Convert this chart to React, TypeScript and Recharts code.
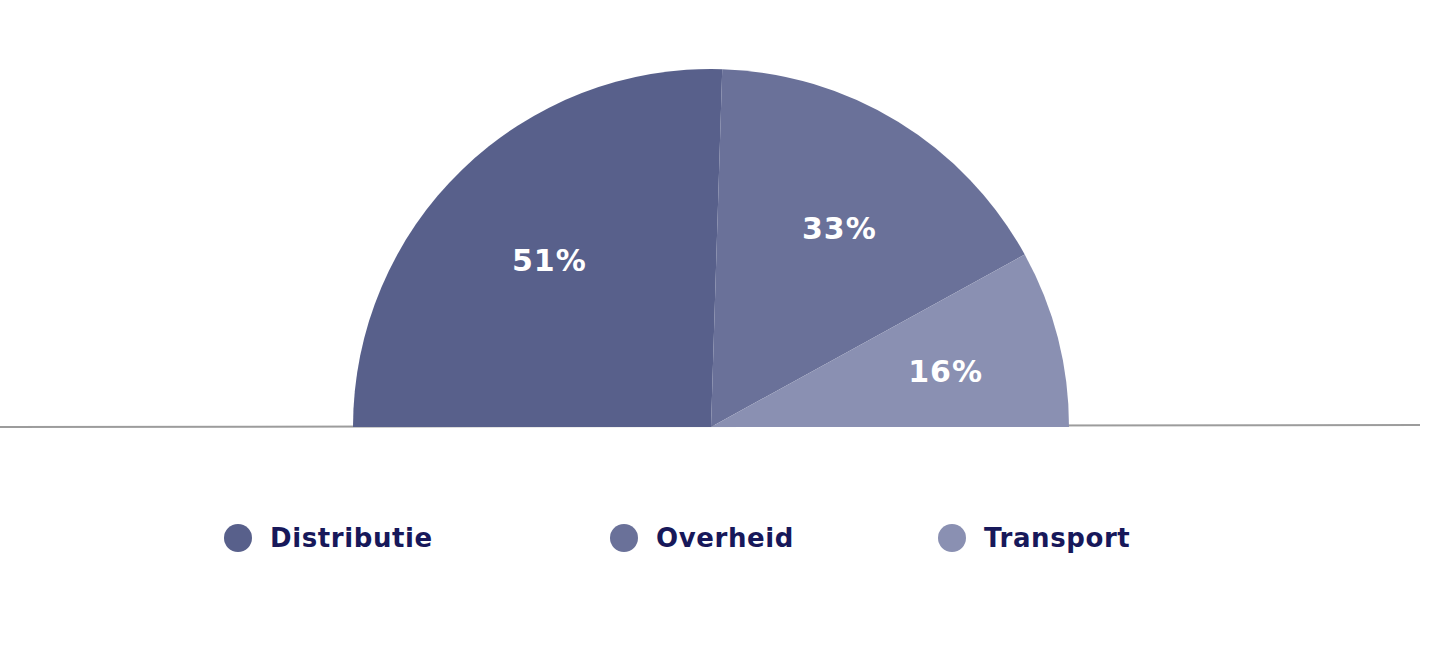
import React from "react";
import { PieChart, Pie, Cell, Legend, Customized } from "recharts";

const categories = ["Distributie", "Overheid", "Transport"];
const shares = [51, 33, 16];
const colors = ["#58608B", "#6A7199", "#8A90B2"];

const data = categories.map((name, i) => ({ name, value: shares[i] }));

const FONT = "'DejaVu Sans', sans-serif";
const RADIAN = Math.PI / 180;

const renderLabel = (props: any) => {
  const { cx, cy, midAngle, outerRadius, value } = props;
  const r = outerRadius * 0.665;
  const x = cx + 4 + r * Math.cos(-midAngle * RADIAN);
  const y = cy + 4 + r * Math.sin(-midAngle * RADIAN);
  return (
    <text
      x={x}
      y={y}
      fill="#ffffff"
      textAnchor="middle"
      dominantBaseline="central"
      style={{ fontFamily: FONT, fontWeight: 700, fontSize: 30, letterSpacing: 1 }}
    >
      {`${value}%`}
    </text>
  );
};

const legendOffsets = [224, 610, 938];

const renderLegend = (props: any) => {
  const { payload } = props;
  return (
    <div style={{ position: "relative", width: 1448, height: 40 }}>
      {(payload || []).map((entry: any, i: number) => (
        <div
          key={i}
          style={{
            position: "absolute",
            left: legendOffsets[i],
            top: 0,
            display: "flex",
            alignItems: "center",
            height: 30,
          }}
        >
          <span
            style={{
              width: 28,
              height: 28,
              borderRadius: 14,
              background: entry.color,
              display: "inline-block",
            }}
          />
          <span
            style={{
              marginLeft: 18,
              fontFamily: FONT,
              fontWeight: 700,
              fontSize: 26,
              color: "#17185A",
              letterSpacing: 0.6,
              lineHeight: "30px",
            }}
          >
            {entry.value}
          </span>
        </div>
      ))}
    </div>
  );
};

const BaseLine = () => (
  <line x1={0} y1={427} x2={1420} y2={425} stroke="#9c9c9c" strokeWidth={2} />
);

export default function App() {
  return (
    <div style={{ position: "absolute", left: 0, top: 0, width: 1448, height: 664, background: "#ffffff" }}>
      <PieChart width={1448} height={664} margin={{ top: 0, right: 0, bottom: 0, left: 0 }}>
        <Customized component={BaseLine} />
        <Pie
          data={data}
          dataKey="value"
          nameKey="name"
          cx={711}
          cy={427}
          outerRadius={358}
          startAngle={180}
          endAngle={0}
          stroke="none"
          label={renderLabel}
          labelLine={false}
          isAnimationActive={false}
        >
          {data.map((d, i) => (
            <Cell key={d.name} fill={colors[i]} />
          ))}
        </Pie>
        <Legend
          content={renderLegend}
          wrapperStyle={{ position: "absolute", left: 0, top: 523, width: 1448 }}
        />
      </PieChart>
    </div>
  );
}
